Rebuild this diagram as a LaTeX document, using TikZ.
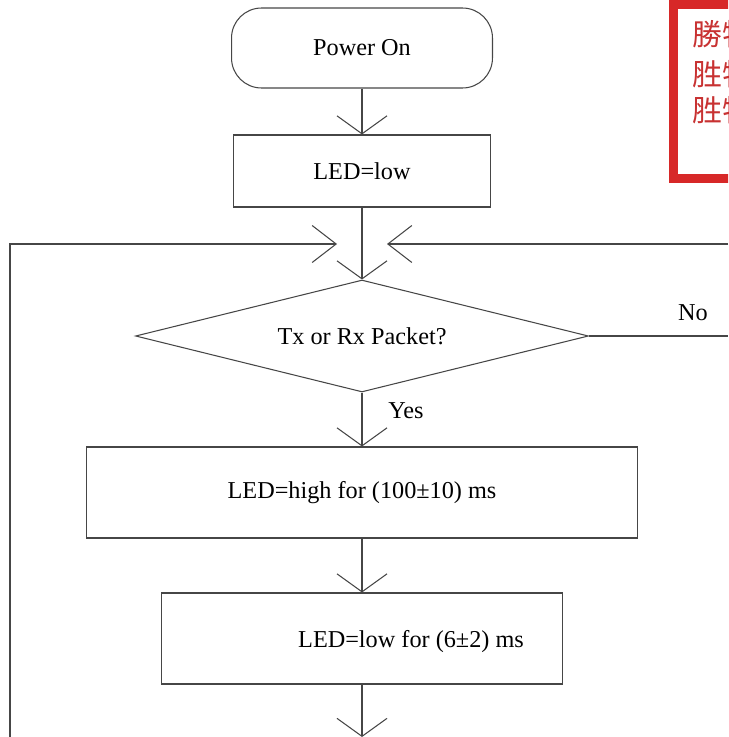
\documentclass[tikz,border=0pt]{standalone}
\usepackage{fontspec}
\setmainfont{Liberation Serif}
\newfontfamily\cjkfont{Noto Sans CJK TC}
\usetikzlibrary{shapes.geometric,arrows.meta,positioning}
\definecolor{linegray}{RGB}{70,70,70}
\definecolor{logored}{RGB}{215,40,40}
\definecolor{logotext}{RGB}{200,50,50}

\begin{document}
\begin{tikzpicture}[x=0.02cm,y=-0.02cm,font=\fontsize{13.8}{16}\selectfont]
  \tikzstyle{box}=[rectangle,draw=linegray,line width=0.6pt,inner sep=0pt]
  \tikzstyle{flow}=[draw=linegray,line width=0.6pt,-{Straight Barb[length=0.36cm,width=1cm]}]
  \tikzstyle{sideflow}=[draw=linegray,line width=0.6pt,-{Straight Barb[length=0.48cm,width=0.74cm]}]
  \tikzstyle{wire}=[draw=linegray,line width=0.6pt]
  \tikzstyle{logo}=[anchor=west,text=logotext,inner sep=0pt,font=\cjkfont\fontsize{17}{20}\selectfont]
  \useasboundingbox (0,0) rectangle (728,737);
  \clip (0,0) rectangle (728,737);
  % logo in the corner, cut off by the edge
  \draw[logored,line width=0.18cm,fill=white] (673.5,4.5) rectangle (790,178.5);
  \node[logo] (logoa) at (692,34) {勝特力};
  \node[logo] (logob) at (692,74) {胜特力};
  \node[logo] (logoc) at (692,110) {胜特力};
  % flow
  \node[box,rounded corners=0.6cm,minimum width=5.22cm,minimum height=1.6cm] (power) at (362,48) {Power On};
  \node[box,minimum width=5.14cm,minimum height=1.44cm] (led) at (362,171) {LED=low};
  \node[box,diamond,aspect=4,minimum width=9.06cm,minimum height=2.24cm] (pkt) at (362,336) {Tx or Rx Packet?};
  \node[box,minimum width=11.02cm,minimum height=1.82cm] (high) at (362,492.5) {LED=high for (100±10) ms};
  \node[box,minimum width=8.02cm,minimum height=1.82cm] (lowfor) at (362,638.5) {};
  \node (lowtxt) at (411,642) {LED=low for (6±2) ms};
  \node (yes) at (406,411) {Yes};
  \node (no) at (693,313) {No};
  \coordinate (bot) at (362,737);
  \coordinate (lbot) at (10,737);
  \coordinate (lcorner) at (10,244);
  \coordinate (lin) at (337,244);
  \coordinate (rin) at (387,244);
  \coordinate (rout) at (728,244);
  \coordinate (noout) at (728,336);
  \draw[flow] (power) -- (led);
  \draw[flow] (led) -- (pkt);
  \draw[flow] (pkt) -- (high);
  \draw[flow] (high) -- (lowfor);
  \draw[flow] (lowfor) -- (bot);
  \draw[sideflow] (lbot) -- (lcorner) -- (lin);
  \draw[sideflow] (rout) -- (rin);
  \draw[wire] (pkt.east) -- (noout);
\end{tikzpicture}
\end{document}
